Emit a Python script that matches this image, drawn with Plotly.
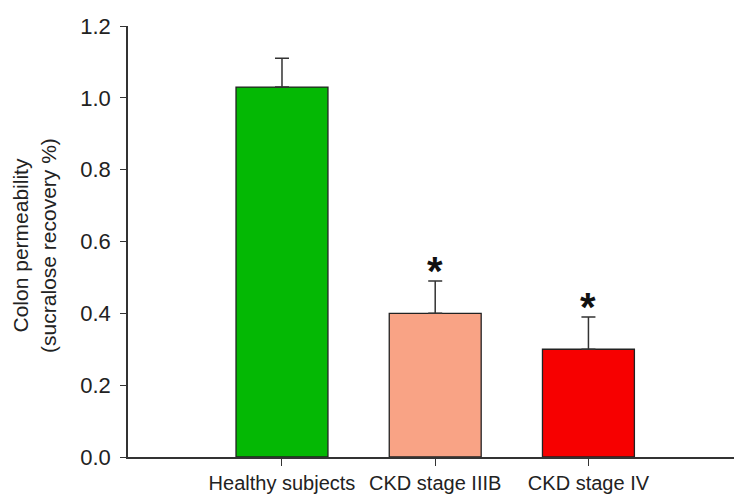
import plotly.graph_objects as go

# Colon permeability by group
groups = ["Healthy subjects", "CKD stage IIIB", "CKD stage IV"]
means = [1.03, 0.40, 0.30]
sem = [0.08, 0.09, 0.09]
significant = [False, True, True]
bar_colors = ["#04B804", "#F9A385", "#F70000"]

positions = list(range(len(groups)))

fig = go.Figure()
fig.add_trace(go.Bar(
    x=positions,
    y=means,
    width=0.6,
    marker=dict(color=bar_colors, line=dict(color="#222222", width=1.3)),
    error_y=dict(type="data", array=sem, arrayminus=[0] * len(sem),
                 symmetric=False, color="#333333", thickness=1.5, width=7),
    showlegend=False,
    hoverinfo="skip",
))

# significance markers above the error bars
for p, m, e, s in zip(positions, means, sem, significant):
    if s:
        fig.add_annotation(x=p, y=m + e, text="<b>*</b>", showarrow=False,
                           xanchor="center", yanchor="bottom", yshift=-14,
                           font=dict(family="Liberation Sans, Arial", size=40, color="#111111"))

# y-axis title, two lines
fig.add_annotation(xref="paper", yref="paper", x=-0.155, y=0.49,
                   text="Colon permeability<br>(sucralose recovery %)",
                   textangle=-90, showarrow=False, xanchor="center", yanchor="middle",
                   font=dict(family="Liberation Sans, Arial", size=21, color="#222222"))

fig.update_layout(
    width=734, height=495,
    margin=dict(l=128, r=0, t=26, b=38, autoexpand=False),
    plot_bgcolor="white", paper_bgcolor="white",
    font=dict(family="Liberation Sans, Arial", color="#222222"),
    bargap=0.4,
)
fig.update_xaxes(
    range=[-1.005, 2.95],
    tickmode="array", tickvals=positions, ticktext=groups,
    tickfont=dict(size=20),
    ticklabelstandoff=0,
    automargin=False,
    showline=True, linecolor="#333333", linewidth=1.5,
    ticks="outside", ticklen=7, tickwidth=1.3, tickcolor="#333333",
    showgrid=False, zeroline=False,
)
fig.update_yaxes(
    range=[0, 1.2],
    tickmode="array", tickvals=[0, 0.2, 0.4, 0.6, 0.8, 1.0, 1.2],
    tickformat=".1f",
    tickfont=dict(size=22),
    ticklabelstandoff=5,
    automargin=False,
    showline=True, linecolor="#333333", linewidth=1.5,
    ticks="outside", ticklen=6, tickwidth=1.3, tickcolor="#333333",
    showgrid=False, zeroline=False,
)

fig.write_html("out.html")
